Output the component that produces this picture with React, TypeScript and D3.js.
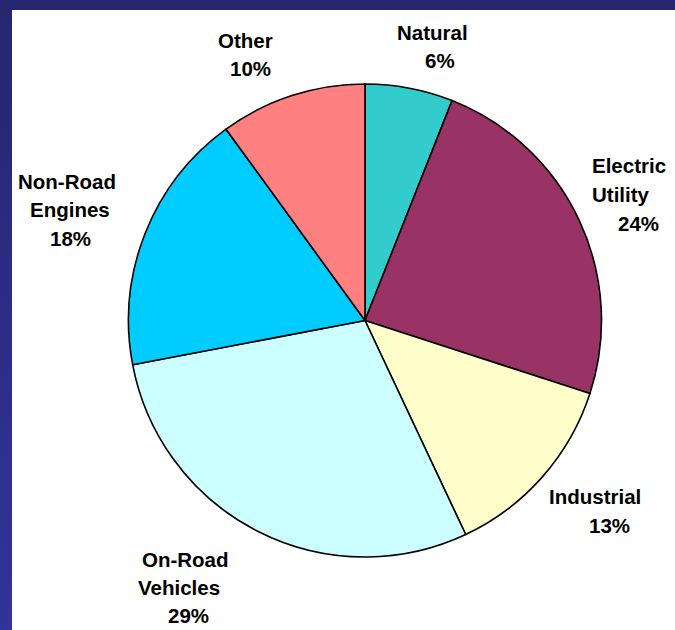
import React from "react";
import * as d3 from "d3";

const categories = ["Natural", "Electric Utility", "Industrial", "On-Road Vehicles", "Non-Road Engines", "Other"];
const shares = [6, 24, 13, 29, 18, 10];
const labelLines = [
  ["Natural", "6%"],
  ["Electric", "Utility", "24%"],
  ["Industrial", "13%"],
  ["On-Road", "Vehicles", "29%"],
  ["Non-Road", "Engines", "18%"],
  ["Other", "10%"],
];
const colors = ["#33CCCC", "#993366", "#FFFFCC", "#CCFFFF", "#00CCFF", "#FF8080"];

// label layout: left x of each line and baselines
const labelLayout = [
  { xs: [397, 425], ys: [40, 68] },
  { xs: [592, 592, 618], ys: [173, 202, 231] },
  { xs: [549, 589], ys: [504, 533] },
  { xs: [142, 138, 168], ys: [567, 595, 623] },
  { xs: [18, 30, 50], ys: [189, 217, 246] },
  { xs: [218, 230], ys: [48, 76] },
];

const W = 675;
const H = 630;
const CX = 365;
const CY = 320.5;
const R = 236.5;

export default function App() {
  const pie = d3
    .pie<number>()
    .sort(null)
    .value((d) => d)
    .startAngle(0)
    .endAngle(2 * Math.PI);
  const arcs = pie(shares);
  const arcGen = d3.arc<d3.PieArcDatum<number>>().innerRadius(0).outerRadius(R);

  return (
    <svg
      width={W}
      height={H}
      style={{ position: "absolute", left: 0, top: 0 }}
      xmlns="http://www.w3.org/2000/svg"
    >
      <defs>
        <linearGradient id="bg" x1="0" y1="0" x2="0" y2="1">
          <stop offset="0" stopColor="#262670" />
          <stop offset="1" stopColor="#333399" />
        </linearGradient>
      </defs>
      <rect x={0} y={0} width={W} height={H} fill="url(#bg)" />
      <rect x={12} y={10} width={W - 12} height={H - 10} fill="#FFFFFF" />
      <g transform={`translate(${CX},${CY})`}>
        {arcs.map((a, i) => (
          <path
            key={categories[i]}
            d={arcGen(a) || ""}
            fill={colors[i]}
            stroke="#000000"
            strokeWidth={1.6}
            strokeLinejoin="round"
          />
        ))}
      </g>
      <g
        fontFamily="'Liberation Sans', Arial, sans-serif"
        fontWeight="bold"
        fontSize={20.5}
        fill="#000000"
      >
        {labelLines.map((lines, i) =>
          lines.map((t, j) => (
            <text key={`${i}-${j}`} x={labelLayout[i].xs[j]} y={labelLayout[i].ys[j]}>
              {t}
            </text>
          ))
        )}
      </g>
    </svg>
  );
}
